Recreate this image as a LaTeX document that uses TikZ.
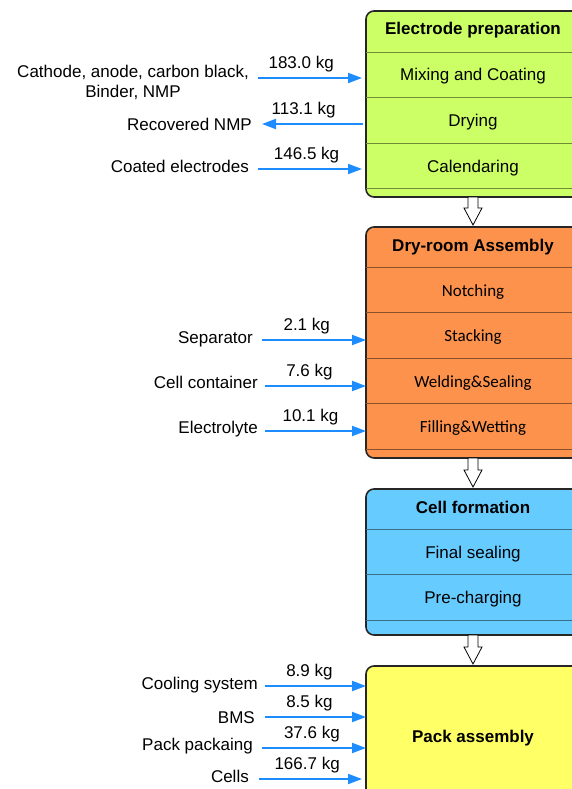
\documentclass[tikz,border=0pt]{standalone}
\usepackage{fontspec}
\setmainfont{Liberation Sans}
\newfontfamily\rowfont{Carlito}
\usetikzlibrary{arrows.meta}

\definecolor{epgreen}{HTML}{CCFF66}
\definecolor{daorange}{HTML}{FD924D}
\definecolor{cfblue}{HTML}{66CCFF}
\definecolor{payellow}{HTML}{FFFF66}
\definecolor{flowblue}{HTML}{1C8CFF}

\newcommand{\basefont}{\fontsize{17}{19.5}\selectfont}

\tikzset{
  box/.style={draw=black!85, line width=1.6pt, rounded corners=8pt,
    minimum width=214pt, outer sep=0pt, inner sep=0pt},
  rowline/.style={line width=.9pt, draw=#1!55!black},
  head/.style={font=\basefont\bfseries, anchor=base, inner sep=0pt},
  row/.style={anchor=base, inner sep=0pt},
  src/.style={anchor=base east, inner sep=0pt},
  flow/.style={draw=flowblue, line width=2pt, -{Triangle[length=14pt,width=10pt]}},
  qty/.style={above=5pt, inner sep=0pt},
  hollow/.style={draw=black, line width=.8pt, fill=white, line join=miter},
}

% open arrow from one stage to the next
\newcommand{\stagearrow}[2]{%
  \draw[hollow] ([xshift=-5pt]#1.south) -- ([xshift=-5pt,yshift=19pt]#2.north)
    -- ([xshift=-9pt,yshift=19pt]#2.north) -- ([yshift=2pt]#2.north)
    -- ([xshift=9pt,yshift=19pt]#2.north) -- ([xshift=5pt,yshift=19pt]#2.north)
    -- ([xshift=5pt]#1.south) -- cycle;}

\begin{document}
\begin{tikzpicture}[x=1pt,y=-1pt,every node/.append style={font=\basefont}]
\useasboundingbox (0,0) rectangle (572,789);
\clip (0,0) rectangle (572,789);

% stages
\node[box,fill=epgreen,minimum height=186pt] (ep) at (473,104) {};
\node[box,fill=daorange,minimum height=231pt] (da) at (473,342.5) {};
\node[box,fill=cfblue,minimum height=146pt] (cf) at (473,562) {};
\node[box,fill=payellow,minimum height=174pt] (pa) at (473,753) {};

\foreach \y in {52,97,143,188}
  \draw[rowline=epgreen] (ep.west |- 0,\y) -- (ep.east |- 0,\y);
\foreach \y in {267,312,358,403,449}
  \draw[rowline=daorange] (da.west |- 0,\y) -- (da.east |- 0,\y);
\foreach \y in {529,574,620}
  \draw[rowline=cfblue] (cf.west |- 0,\y) -- (cf.east |- 0,\y);

\node[head] (epHead) at (473,35) {Electrode preparation};
\node[head] (daHead) at (473,251) {Dry-room Assembly};
\node[head] (cfHead) at (473,513) {Cell formation};
\node[head] (paHead) at (473,742) {Pack assembly};

\foreach \t [count=\i] in {Mixing and Coating,Drying,Calendaring}
  \node[row] (epRow\i) at (473,{35.5+45.5*\i}) {\t};
\foreach \t [count=\i] in {Notching,Stacking,Welding\&Sealing,Filling\&Wetting}
  \node[row,font=\basefont\rowfont] (daRow\i) at (473,{250.5+45.5*\i}) {\t};
\foreach \t [count=\i] in {Final sealing,Pre-charging}
  \node[row] (cfRow\i) at (473,{512.5+45.5*\i}) {\t};

\stagearrow{ep}{da}
\stagearrow{da}{cf}
\stagearrow{cf}{pa}

% inputs and outputs
\node[src,anchor=east,align=center] (cathode) at (249,82.5)
  {Cathode, anode, carbon black,\\Binder, NMP};
\node[src] (nmp) at (252,130) {Recovered NMP};
\node[src] (coated) at (249,172) {Coated electrodes};
\node[src] (separator) at (253,343) {Separator};
\node[src] (container) at (258,388) {Cell container};
\node[src] (electrolyte) at (258,433) {Electrolyte};
\node[src] (cooling) at (258,689) {Cooling system};
\node[src] (bms) at (255,723) {BMS};
\node[src] (packaging) at (253,750) {Pack packaing};
\node[src] (cells) at (249,782) {Cells};

\coordinate (cathodeOut) at (258,78);
\coordinate (nmpIn) at (262,124);
\coordinate (coatedOut) at (258,169);
\coordinate (separatorOut) at (262,340);
\coordinate (containerOut) at (265,386);
\coordinate (electrolyteOut) at (265,431);
\coordinate (coolingOut) at (265,686);
\coordinate (bmsOut) at (265,717);
\coordinate (packagingOut) at (262,748);
\coordinate (cellsOut) at (259,779);

\draw[flow,shorten >=4pt] (cathodeOut) -- node[qty,pos=.4] (q1) {183.0 kg} (cathodeOut -| ep.west);
\draw[flow,shorten <=3pt] (nmpIn -| ep.west) -- node[qty,pos=.6] (q2) {113.1 kg} (nmpIn);
\draw[flow,shorten >=4pt] (coatedOut) -- node[qty,pos=.45] (q3) {146.5 kg} (coatedOut -| ep.west);
\draw[flow] (separatorOut) -- node[qty,pos=.43] (q4) {2.1 kg} (separatorOut -| da.west);
\draw[flow] (containerOut) -- node[qty,pos=.44] (q5) {7.6 kg} (containerOut -| da.west);
\draw[flow] (electrolyteOut) -- node[qty,pos=.45] (q6) {10.1 kg} (electrolyteOut -| da.west);
\draw[flow] (coolingOut) -- node[qty,pos=.44] (q7) {8.9 kg} (coolingOut -| pa.west);
\draw[flow] (bmsOut) -- node[qty,pos=.44] (q8) {8.5 kg} (bmsOut -| pa.west);
\draw[flow] (packagingOut) -- node[qty,pos=.48] (q9) {37.6 kg} (packagingOut -| pa.west);
\draw[flow,shorten >=4pt] (cellsOut) -- node[qty,pos=.45] (q10) {166.7 kg} (cellsOut -| pa.west);
\end{tikzpicture}
\end{document}
